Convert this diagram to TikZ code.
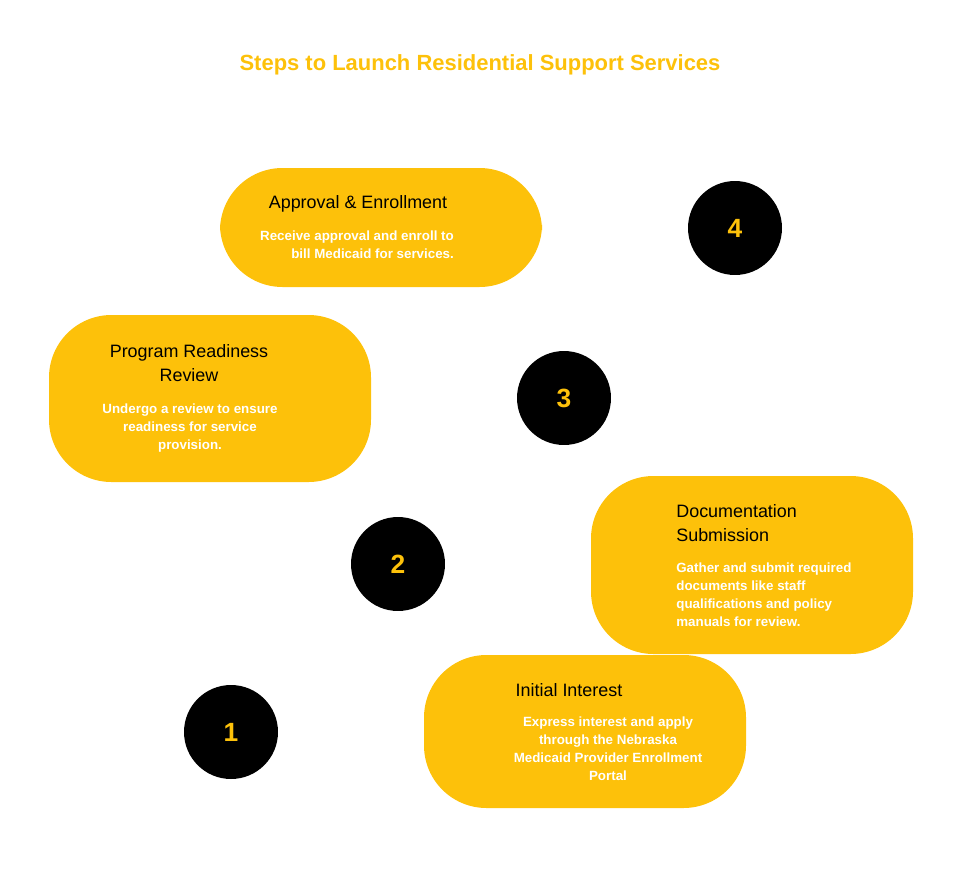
\documentclass[tikz,border=0pt]{standalone}
\usepackage{fontspec}
\setmainfont{Liberation Sans}
\usetikzlibrary{positioning}
\definecolor{gold}{HTML}{FDC10A}

\begin{document}
\begin{tikzpicture}[x=0.02cm,y=-0.02cm,
stepbox/.style={fill=gold, rounded corners=1.25cm, draw=none},
stepnum/.style={circle, fill=black, minimum size=1.88cm, inner sep=0pt, text=gold, font=\bfseries\fontsize{15}{15}\selectfont},
steptitle/.style={font=\fontsize{10.2}{13.5}\selectfont, text=black, inner sep=0pt},
stepdesc/.style={font=\bfseries\fontsize{7.6}{10.2}\selectfont, text=white, inner sep=0pt},
]
\useasboundingbox (0,0) rectangle (960,889);

\node[text=gold, font=\bfseries\fontsize{12.5}{15}\selectfont] (title) at (480,65) {Steps to Launch Residential Support Services};

% Boxes
\fill[stepbox] (220,168) rectangle (542,287);
\fill[stepbox] (49,315) rectangle (371,482);
\fill[stepbox] (591,476) rectangle (913,654);
\fill[stepbox] (424,655) rectangle (746,808);

% Numbers
\node[stepnum] (n4) at (735,228) {4};
\node[stepnum] (n3) at (564,398) {3};
\node[stepnum] (n2) at (398,564) {2};
\node[stepnum] (n1) at (231,732) {1};

% Texts
\node[steptitle] (t4) at (358,204) {Approval \& Enrollment};
\node[stepdesc, align=right] (d4) at (357,245) {Receive approval and enroll to\\bill Medicaid for services.};

\node[steptitle, align=center] (t3) at (189,363) {Program Readiness\\Review};
\node[stepdesc, align=center] (d3) at (190,428) {Undergo a review to ensure\\readiness for service\\provision.};

\node[steptitle, align=left, anchor=west] (t2) at (676,523) {Documentation\\Submission};
\node[stepdesc, align=left, anchor=west] (d2) at (676,595) {Gather and submit required\\documents like staff\\qualifications and policy\\manuals for review.};

\node[steptitle] (t1) at (569,690) {Initial Interest};
\node[stepdesc, align=center] (d1) at (608,749) {Express interest and apply\\through the Nebraska\\Medicaid Provider Enrollment\\Portal};
\end{tikzpicture}
\end{document}
